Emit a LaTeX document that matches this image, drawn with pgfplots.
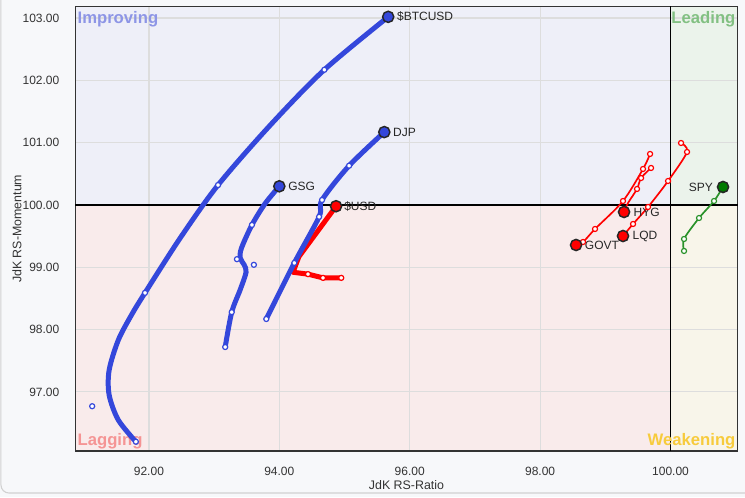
\documentclass[border=0pt]{standalone}
\usepackage{pgfplots}
\pgfplotsset{compat=1.18}
\usepackage{fontspec}
\setmainfont{Liberation Sans}
\definecolor{bgout}{HTML}{F7F8FA}
\definecolor{qimp}{HTML}{EEEFF8}
\definecolor{qlead}{HTML}{EBF3EB}
\definecolor{qlag}{HTML}{F9EBEB}
\definecolor{qweak}{HTML}{F8F5EA}
\definecolor{limp}{HTML}{8D95E6}
\definecolor{llead}{HTML}{82C082}
\definecolor{llag}{HTML}{F59494}
\definecolor{lweak}{HTML}{F7CB3C}
\definecolor{rblue}{HTML}{3447DB}
\definecolor{rred}{HTML}{FF0000}
\definecolor{rgreen}{HTML}{2A922A}
\definecolor{rgreenh}{HTML}{007A00}
\definecolor{gridc}{HTML}{DDDDDD}
\definecolor{txt}{HTML}{333333}
\pagecolor{bgout}
\begin{document}
\begin{tikzpicture}
\draw[black!18, line width=0.8pt, rounded corners=6pt] (-55.9pt,338.25pt) -- (-55.9pt,-31.5pt) -- (502.125pt,-31.5pt);
\begin{axis}[
  at={(0,0)}, anchor=south west,
  scale only axis, width=496.5pt, height=333.375pt,
  xmin=90.874, xmax=101.027, ymin=96.051, ymax=103.186,
  set layers, clip=false,
  grid=major, grid style={gridc, line width=0.9pt},
  xtick={92,94,96,98,100}, ytick={97,98,99,100,101,102,103},
  major tick length=0pt,
  axis line style={txt, line width=0.9pt},
  ticklabel style={font=\fontsize{9}{11}\selectfont, text=txt,
    /pgf/number format/fixed, /pgf/number format/fixed zerofill,
    /pgf/number format/precision=2, /pgf/number format/assume math mode=true},
  xticklabel style={yshift=-8.25pt},
  yticklabel style={xshift=-8.6pt},
]
\addplot[draw=none, fill=qimp, on layer=axis background, forget plot] coordinates {(90.874,100) (100,100) (100,103.186) (90.874,103.186)} -- cycle;
\addplot[draw=none, fill=qlead, on layer=axis background, forget plot] coordinates {(100,100) (101.027,100) (101.027,103.186) (100,103.186)} -- cycle;
\addplot[draw=none, fill=qlag, on layer=axis background, forget plot] coordinates {(90.874,96.051) (100,96.051) (100,100) (90.874,100)} -- cycle;
\addplot[draw=none, fill=qweak, on layer=axis background, forget plot] coordinates {(100,96.051) (101.027,96.051) (101.027,100) (100,100)} -- cycle;
\draw[black, line width=0.8pt] (axis cs:100,96.051) -- (axis cs:100,103.186);
\draw[black, line width=0.8pt] (axis cs:90.874,100) -- (axis cs:101.027,100);
% quadrant labels
\node[anchor=base west, inner sep=0pt, text=limp, font=\fontsize{12.5}{14}\selectfont\bfseries] at ([xshift=1.4pt,yshift=-12.4pt]rel axis cs:0,1) {Improving};
\node[anchor=base east, inner sep=0pt, text=llead, font=\fontsize{12.5}{14}\selectfont\bfseries] at ([xshift=-1.4pt,yshift=-12.4pt]rel axis cs:1,1) {Leading};
\node[anchor=base west, inner sep=0pt, text=llag, font=\fontsize{12.5}{14}\selectfont\bfseries] at ([xshift=1.4pt,yshift=4.5pt]rel axis cs:0,0) {Lagging};
\node[anchor=base east, inner sep=0pt, text=lweak, font=\fontsize{12.5}{14}\selectfont\bfseries] at ([xshift=-1.4pt,yshift=3.8pt]rel axis cs:1,0) {Weakening};
% axis titles
\node[font=\fontsize{9.3}{11}\selectfont, text=txt] at ([yshift=-25.5pt]rel axis cs:0.5,0) {JdK RS-Ratio};
\node[rotate=90, font=\fontsize{9.3}{11}\selectfont, text=txt] at ([xshift=-44pt]rel axis cs:0,0.5) {JdK RS-Momentum};

% BTCUSD
\addplot[rblue, line width=3.75pt, smooth, line cap=round] coordinates {
(91.80,96.20) (91.53,96.55) (91.39,96.95) (91.39,97.35) (91.53,97.83) (91.73,98.23) (91.94,98.59) (92.48,99.47) (93.06,100.32) (93.86,101.28) (94.69,102.17) (95.67,103.02)};
\addplot[only marks, mark=*, mark size=1.9pt, mark options={draw=rblue, fill=white, line width=0.9pt}] coordinates {
(91.13,96.77) (91.80,96.20) (91.94,98.59) (93.06,100.32) (94.69,102.17)};
% GSG
\addplot[rblue, line width=3.75pt, smooth, line cap=round] coordinates {
(93.17,97.72) (93.27,98.28) (93.40,98.64) (93.49,98.92) (93.46,99.04) (93.40,99.15) (93.42,99.31) (93.58,99.68) (93.78,100.02) (94.00,100.30)};
\addplot[only marks, mark=*, mark size=1.9pt, mark options={draw=rblue, fill=white, line width=0.9pt}] coordinates {
(93.17,97.72) (93.27,98.28) (93.61,99.04) (93.35,99.13) (93.58,99.68)};
% $USD
\addplot[rred, line width=3.75pt, line join=round, line cap=round] coordinates {
(94.95,98.83) (94.67,98.83) (94.44,98.89) (94.21,98.92) (94.30,99.17) (94.87,99.98)};
\addplot[only marks, mark=*, mark size=1.9pt, mark options={draw=rred, fill=white, line width=0.9pt}] coordinates {
(94.95,98.83) (94.67,98.83) (94.44,98.89)};
% DJP
\addplot[rblue, line width=3.75pt, smooth, line cap=round] coordinates {
(93.80,98.17) (94.23,99.07) (94.61,99.81) (94.655,100.08) (95.07,100.63) (95.61,101.17)};
\addplot[only marks, mark=*, mark size=1.9pt, mark options={draw=rblue, fill=white, line width=0.9pt}] coordinates {
(93.80,98.17) (94.23,99.07) (94.61,99.81) (94.655,100.08) (95.07,100.63)};
% GOVT
\addplot[rred, line width=1.25pt, smooth] coordinates {
(99.686,100.819) (99.578,100.578) (99.271,100.064) (98.842,99.615) (98.658,99.406) (98.551,99.358)};
\addplot[only marks, mark=*, mark size=1.9pt, mark options={draw=rred, fill=white, line width=0.9pt}] coordinates {
(99.686,100.819) (99.578,100.578) (99.271,100.064) (98.842,99.615) (98.658,99.406)};
% HYG
\addplot[rred, line width=1.25pt, smooth] coordinates {
(99.701,100.594) (99.548,100.433) (99.486,100.257) (99.348,100.032) (99.287,99.888)};
\addplot[only marks, mark=*, mark size=1.9pt, mark options={draw=rred, fill=white, line width=0.9pt}] coordinates {
(99.701,100.594) (99.548,100.433) (99.486,100.257)};
% LQD
\addplot[rred, line width=1.25pt, smooth] coordinates {
(100.161,100.995) (100.253,100.851) (99.962,100.385) (99.655,99.968) (99.425,99.695) (99.271,99.502)};
\addplot[only marks, mark=*, mark size=1.9pt, mark options={draw=rred, fill=white, line width=0.9pt}] coordinates {
(100.161,100.995) (100.253,100.851) (99.962,100.385) (99.655,99.968) (99.425,99.695)};
% SPY
\addplot[rgreen, line width=1.25pt, smooth] coordinates {
(100.207,99.262) (100.207,99.454) (100.437,99.791) (100.667,100.064) (100.805,100.289)};
\addplot[only marks, mark=*, mark size=1.9pt, mark options={draw=rgreen, fill=white, line width=0.9pt}] coordinates {
(100.207,99.262) (100.207,99.454) (100.437,99.791) (100.667,100.064)};
% heads
\addplot[only marks, mark=*, mark size=4.2pt, mark options={draw=black!85, fill=rblue, line width=1.1pt}] coordinates {
(95.67,103.02) (95.61,101.17) (94.00,100.30)};
\addplot[only marks, mark=*, mark size=4.2pt, mark options={draw=black!85, fill=rred, line width=1.1pt}] coordinates {
(94.87,99.98) (99.287,99.888) (99.271,99.502) (98.551,99.358)};
\addplot[only marks, mark=*, mark size=4.2pt, mark options={draw=black!85, fill=rgreenh, line width=1.1pt}] coordinates {
(100.805,100.289)};
% head labels
\begin{scope}[every node/.style={font=\fontsize{9}{11}\selectfont, text=black!85, inner sep=0pt}]
\node[anchor=west] at ([xshift=6.5pt]axis cs:95.67,103.02) {\$BTCUSD};
\node[anchor=west] at ([xshift=6.5pt]axis cs:95.61,101.17) {DJP};
\node[anchor=west] at ([xshift=6.5pt]axis cs:94.00,100.30) {GSG};
\node[anchor=west] at ([xshift=6pt]axis cs:94.87,99.98) {\$USD};
\node[anchor=west] at ([xshift=7pt]axis cs:99.287,99.888) {HYG};
\node[anchor=west] at ([xshift=7pt]axis cs:99.271,99.502) {LQD};
\node[anchor=west] at ([xshift=6.5pt]axis cs:98.551,99.358) {GOVT};
\node[anchor=east] at ([xshift=-7.5pt]axis cs:100.805,100.289) {SPY};
\end{scope}
\end{axis}
\pgfresetboundingbox
\path[use as bounding box] (-56.625pt,-34.5pt) rectangle (502.125pt,338.25pt);
\end{tikzpicture}
\end{document}
